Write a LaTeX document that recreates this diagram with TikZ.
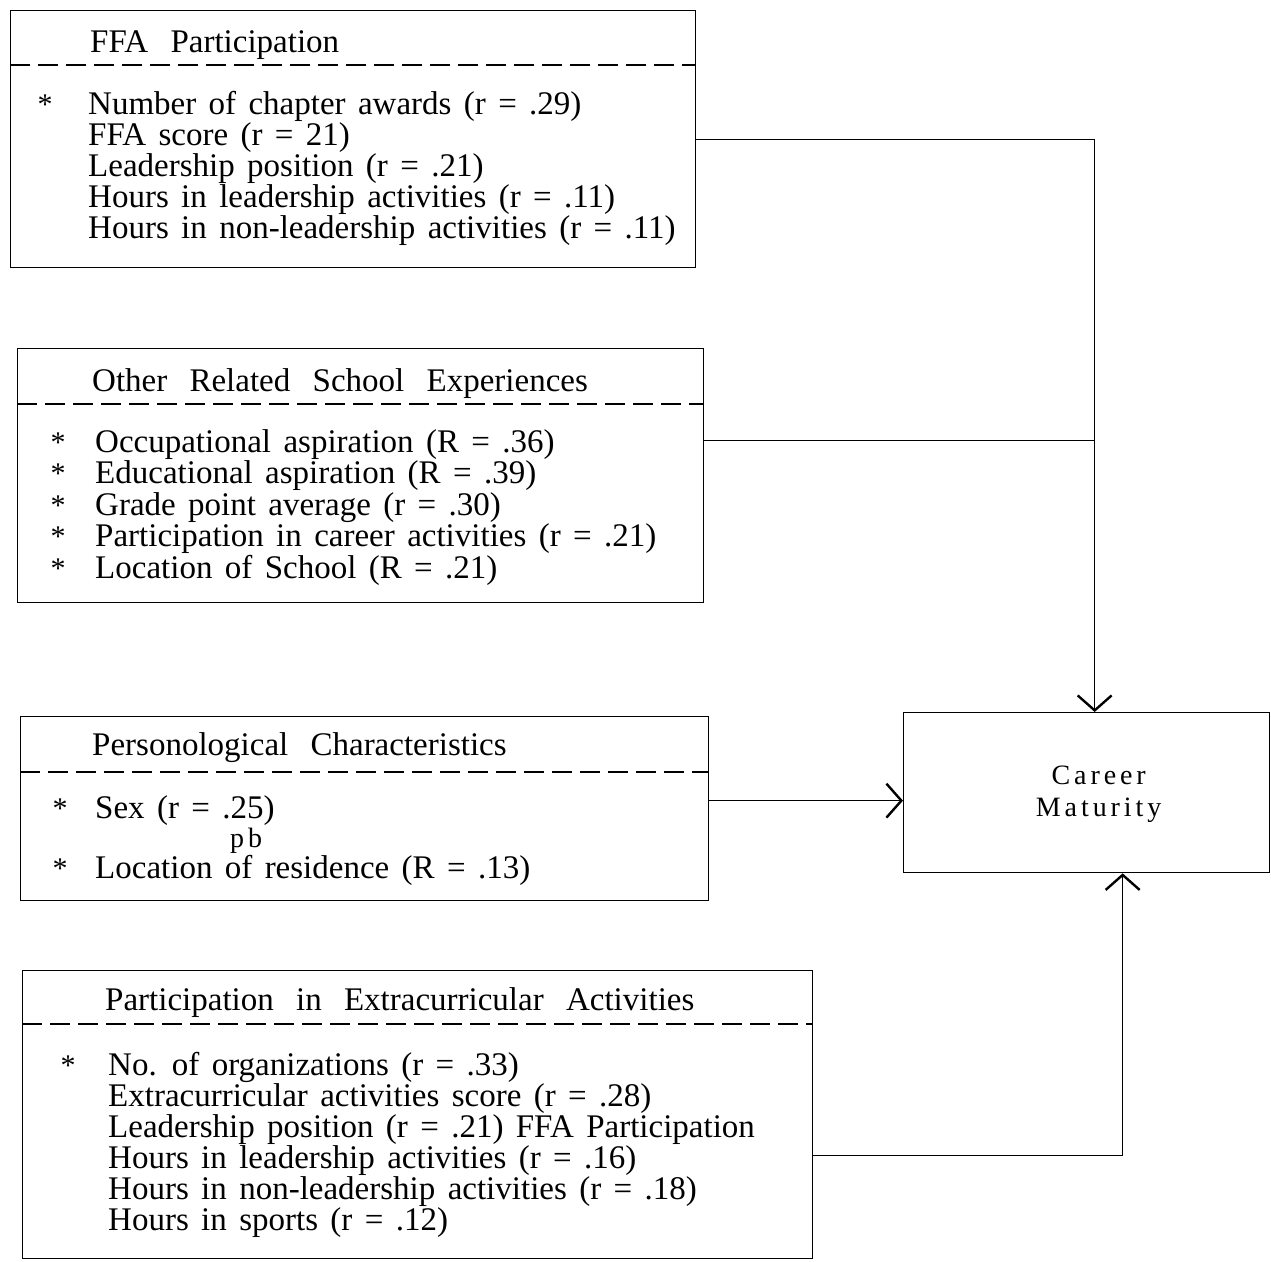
\documentclass[tikz,border=0pt]{standalone}
\usepackage{fontspec}
\setmainfont{Liberation Serif}[WordSpace=1.5]
\newfontfamily\headfont{Liberation Serif}[WordSpace=2.7]
\newfontfamily\cmfont{Liberation Serif}[LetterSpace=14]
\usepackage{tikz}
\usetikzlibrary{arrows.meta}
\usetikzlibrary{positioning}

\tikzset{
  box/.style={draw, line width=1.3pt, rectangle, inner sep=0pt, anchor=north west},
  sep/.style={line width=2.2pt, dash pattern=on 20pt off 8pt},
  item/.style={anchor=base west, inner sep=0pt, font=\fontsize{33}{33}\selectfont},
  head/.style={anchor=base west, inner sep=0pt, font=\headfont\fontsize{33}{33}\selectfont},
  star/.style={anchor=base, inner sep=0pt, font=\fontsize{30}{30}\selectfont},
  link/.style={line width=1.3pt},
  arr/.style={line width=1.3pt, -{Straight Barb[length=15pt,width=34pt,line width=2.4pt]}}
}

\begin{document}
\begin{tikzpicture}[x=1pt,y=-1pt]
\useasboundingbox (0,0) rectangle (1271,1261);

% boxes
\node[box, minimum width=685, minimum height=257] (ffa) at (10,10) {};
\node[box, minimum width=686, minimum height=254] (ore) at (17,348) {};
\node[box, minimum width=688, minimum height=184] (pc) at (20,716) {};
\node[box, minimum width=790, minimum height=288] (eca) at (22,970) {};
\node[box, minimum width=366, minimum height=160] (cm) at (903,712) {};

% dashed separators
\draw[sep] (ffa.west |- 0,65) -- (ffa.east |- 0,65);
\draw[sep] (ore.west |- 0,404) -- (ore.east |- 0,404);
\draw[sep] (pc.west |- 0,772) -- (pc.east |- 0,772);
\draw[sep] (eca.west |- 0,1024) -- (eca.east |- 0,1024);

% FFA Participation
\node[head] (ffah) at (90,52) {FFA Participation};
\node[star] (ffas) at (45,114) {*};
\node[item] (ffa1) at (88,114) {Number of chapter awards (r = .29)};
\node[item] (ffa2) at (88,145) {FFA score (r = 21)};
\node[item] (ffa3) at (88,176) {Leadership position (r = .21)};
\node[item] (ffa4) at (88,207) {Hours in leadership activities (r = .11)};
\node[item] (ffa5) at (88,238) {Hours in non-leadership activities (r = .11)};

% Other Related School Experiences
\node[head] (oreh) at (92,391) {Other Related School Experiences};
\node[star] (ores1) at (58,452) {*};
\node[star] (ores2) at (58,483) {*};
\node[star] (ores3) at (58,515) {*};
\node[star] (ores4) at (58,546) {*};
\node[star] (ores5) at (58,578) {*};
\node[item] (ore1) at (95,452) {Occupational aspiration (R = .36)};
\node[item] (ore2) at (95,483) {Educational aspiration (R = .39)};
\node[item] (ore3) at (95,515) {Grade point average (r = .30)};
\node[item] (ore4) at (95,546) {Participation in career activities (r = .21)};
\node[item] (ore5) at (95,578) {Location of School (R = .21)};

% Personological Characteristics
\node[head] (pch) at (92,755) {Personological Characteristics};
\node[star] (pcs1) at (60,818) {*};
\node[star] (pcs2) at (60,878) {*};
\node[item] (pc1) at (95,818) {Sex (r = .25)};
\node[anchor=base west, inner sep=0pt, font=\cmfont\fontsize{28}{28}\selectfont] (pcsub) at (230,847) {pb};
\node[item] (pc2) at (95,878) {Location of residence (R = .13)};

% Participation in Extracurricular Activities
\node[head] (ecah) at (105,1010) {Participation in Extracurricular Activities};
\node[star] (ecas) at (68,1075) {*};
\node[item] (eca1) at (108,1075) {No. of organizations (r = .33)};
\node[item] (eca2) at (108,1106) {Extracurricular activities score (r = .28)};
\node[item] (eca3) at (108,1137) {Leadership position (r = .21) FFA Participation};
\node[item] (eca4) at (108,1168) {Hours in leadership activities (r = .16)};
\node[item] (eca5) at (108,1199) {Hours in non-leadership activities (r = .18)};
\node[item] (eca6) at (108,1230) {Hours in sports (r = .12)};

% Career Maturity
\node[align=center, inner sep=0pt, font=\cmfont\fontsize{28}{32}\selectfont] (cmt) at ([xshift=12pt,yshift=-2pt]cm.center) {Career\\Maturity};

% connectors
\coordinate (jn) at ([xshift=8pt]cm.north);
\coordinate (oreout) at ([yshift=35pt]ore.east);
\coordinate (pcout) at ([yshift=8pt]pc.east);
\coordinate (ecaout) at ([yshift=-41pt]eca.east);
\coordinate (up) at ([xshift=36pt]cm.south);
\draw[arr] (ffa.east) -| (jn);
\draw[link] (oreout) -- (oreout -| jn);
\draw[arr] (pcout) -- (pcout -| cm.west);
\draw[arr] (ecaout) -| (up);
\end{tikzpicture}
\end{document}
